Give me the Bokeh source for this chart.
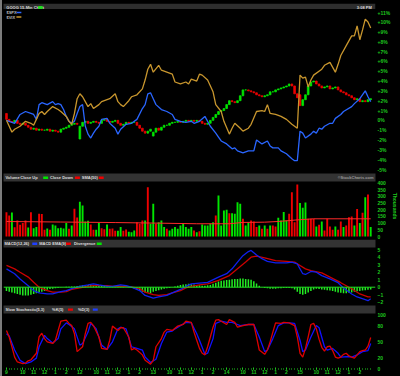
from bokeh.plotting import figure
from bokeh.layouts import column
from bokeh.models import Range1d, LinearAxis, FixedTicker, Span
from bokeh.core.properties import value
from bokeh.embed import file_html
from bokeh.resources import INLINE

# ---------------- data ----------------
goog_open = [0.7, 0.1, -0.1, -0.2, 0.0, -0.3, -0.4, -0.3, -0.5, -0.7,
             -0.9, -0.8, -1.0, -0.9, -1.0, -1.0, -0.9, -1.1, -1.0, -1.1,
             -1.2, -0.9, -0.8, -0.7, -0.5, -0.4, -0.3, -1.9, -0.6, -0.2,
             -0.1, -0.3, -0.2, -0.1, -0.2, -0.3, 0.0, 0.1, -0.1, -0.2,
             -0.1, 0.0, -0.3, -0.5, -0.4, -0.2, -0.3, -0.2, -0.2, -0.5,
             -0.8, -1.1, -1.3, -1.1, -1.6, -1.2, -0.8, -1.0, -0.7, -0.5,
             -0.5, -0.3, -0.2, -0.2, -0.1, -0.2, -0.1, 0.0, -0.1, 0.0,
             -0.1, 0.0, -0.1, -0.3, -0.4, -0.3, 0.0, 0.3, 0.6, 0.9,
             1.0, 1.2, 1.6, 2.0, 1.9, 1.8, 2.0, 2.5, 3.1, 3.1,
             3.0, 2.9, 2.8, 2.6, 2.5, 2.4, 2.5, 2.6, 2.9, 2.9,
             3.1, 3.2, 3.3, 3.4, 3.5, 3.7, 3.5, 2.7, 2.6, 1.5,
             2.1, 2.6, 3.5, 3.9, 4.0, 3.7, 3.5, 3.3, 3.4, 3.5,
             3.2, 3.3, 3.4, 3.1, 2.9, 2.8, 2.6, 2.5, 2.3, 2.1,
             2.2, 1.9, 2.0, 1.9, 2.1]
goog_close = [0.1, -0.1, -0.2, 0.0, -0.3, -0.4, -0.3, -0.5, -0.7, -0.9,
              -0.8, -1.0, -0.9, -1.0, -1.0, -0.9, -1.1, -1.0, -1.1, -1.2,
              -0.9, -0.8, -0.7, -0.5, -0.4, -0.3, -0.4, -0.6, -0.2, -0.1,
              -0.3, -0.2, -0.1, -0.2, -0.3, 0.0, 0.1, -0.1, -0.2, -0.1,
              0.0, -0.3, -0.5, -0.4, -0.2, -0.3, -0.2, -0.2, -0.5, -0.8,
              -1.1, -1.3, -1.1, -0.9, -1.2, -0.8, -1.0, -0.7, -0.5, -0.5,
              -0.3, -0.2, -0.2, -0.1, -0.2, -0.1, 0.0, -0.1, 0.0, -0.1,
              0.0, -0.1, -0.3, -0.4, -0.3, 0.0, 0.3, 0.6, 0.9, 1.0,
              1.2, 1.6, 2.0, 1.9, 1.8, 2.0, 2.5, 3.1, 3.1, 3.0,
              2.9, 2.8, 2.6, 2.5, 2.4, 2.5, 2.6, 2.9, 2.9, 3.1,
              3.2, 3.3, 3.4, 3.5, 3.7, 3.5, 2.7, 2.3, 1.5, 2.1,
              2.6, 3.5, 3.9, 4.0, 3.7, 3.5, 3.3, 3.4, 3.5, 3.2,
              3.3, 3.4, 3.1, 2.9, 2.8, 2.6, 2.5, 2.3, 2.1, 2.2,
              1.9, 2.0, 1.9, 2.1, 2.2]

spx_bar = [0, 1, 3, 5, 7, 9, 10, 11, 12, 13, 15, 17, 18, 19, 20, 21, 22, 23, 24, 25,
           26, 27, 28, 29, 30, 31, 32, 33, 34, 35, 37, 38, 40, 41, 42, 44, 46, 48, 50, 51,
           52, 53, 54, 55, 57, 59, 61, 62, 64, 66, 68, 69, 71, 73, 75, 77, 78, 79, 81, 83,
           84, 85, 87, 89, 91, 92, 93, 94, 96, 97, 98, 100, 101, 103, 105, 106, 107, 108, 109, 110,
           112, 113, 114, 115, 116, 117, 119, 120, 121, 123, 124, 127, 128, 130, 132, 133, 134]
spx_pct = [0.0, -0.1, -0.3, 0.6, 0.9, 0.7, 0.6, 0.1, 1.6, 1.8, 1.6, 1.9, 1.6, 1.7, 1.6, 1.1, 0.4, -0.1, -0.3, -0.1,
           0.7, 1.4, 1.6, -0.6, -1.4, -1.8, -1.3, -0.9, -0.6, 0.1, 0.2, -0.3, -0.8, -1.4, -0.9, -0.4, -0.3, 0.1, 1.2, 1.6,
           2.7, 2.8, 2.2, 1.6, 1.1, 0.9, 0.6, 0.1, -0.1, -0.2, -0.1, -0.3, -0.1, 0.4, -0.6, -1.3, -1.7, -2.1, -2.4, -2.9,
           -2.8, -3.1, -3.3, -3.1, -3.1, -2.0, -2.2, -2.4, -2.1, -2.6, -2.8, -2.8, -3.1, -3.4, -3.9, -4.1, -4.1, -1.1, -1.3, -1.8,
           -1.4, -1.1, -1.3, -0.8, -0.9, -0.6, -0.3, -0.3, 0.2, 0.6, 0.9, 1.4, 1.7, 2.2, 3.0, 2.4, 1.9]

vix_bar = [0, 1, 2, 3, 5, 7, 9, 10, 11, 12, 13, 14, 15, 17, 19, 20, 22, 23, 24, 25,
           26, 27, 28, 29, 30, 31, 32, 34, 35, 37, 38, 40, 41, 42, 43, 45, 46, 48, 50, 51,
           52, 53, 54, 56, 57, 59, 61, 62, 64, 66, 67, 68, 70, 71, 72, 74, 76, 77, 79, 80,
           82, 83, 84, 86, 87, 89, 90, 92, 94, 95, 96, 97, 99, 101, 103, 105, 107, 108, 109, 110,
           111, 112, 113, 116, 117, 119, 121, 122, 123, 125, 127, 128, 129, 130, 131, 132, 133, 134]
vix_pct = [0.0, -0.6, -1.2, -0.9, -0.6, -0.1, -0.3, -0.5, 0.1, 0.7, 0.9, 0.6, 0.9, 1.4, 1.1, 0.9, 0.4, -0.1, -0.4, 0.7,
           2.2, 2.7, 2.4, 1.9, 1.4, 1.7, 1.2, 1.6, 1.9, 2.1, 2.2, 2.7, 1.9, 1.6, 1.4, 2.0, 2.4, 2.6, 3.2, 4.1,
           5.2, 5.7, 4.9, 5.6, 5.1, 4.9, 4.7, 3.9, 3.7, 3.9, 3.7, 4.2, 4.0, 4.7, 4.6, 4.1, 2.9, 1.6, 0.9, -0.1,
           -1.4, -0.8, -0.3, -0.8, -1.1, -0.8, -0.4, 0.9, 1.0, 0.9, 1.6, 0.7, 0.6, 0.4, 0.1, -0.4, -0.8, 4.6, 4.3, 4.4,
           3.4, 4.1, 4.6, 5.2, 5.6, 5.9, 4.9, 5.7, 6.6, 7.6, 8.6, 8.6, 9.6, 8.2, 9.2, 10.3, 10.0, 9.4]

volume_k = [181, 157, 179, 69, 119, 87, 100, 119, 67, 181,
            62, 70, 169, 167, 50, 60, 50, 90, 82, 62,
            65, 60, 100, 57, 82, 207, 142, 259, 231, 112,
            117, 90, 50, 50, 100, 62, 55, 90, 57, 60,
            42, 42, 70, 42, 52, 35, 32, 45, 107, 95,
            119, 119, 368, 95, 244, 95, 107, 119, 70, 57,
            45, 57, 70, 57, 82, 95, 70, 57, 70, 45,
            32, 40, 90, 82, 82, 95, 107, 157, 306, 82,
            194, 199, 174, 174, 169, 256, 244, 132, 82, 107,
            119, 112, 70, 82, 57, 82, 57, 82, 82, 75,
            139, 119, 182, 119, 169, 331, 107, 388, 249, 214,
            254, 132, 132, 132, 75, 87, 112, 45, 132, 75,
            50, 75, 50, 112, 70, 82, 144, 149, 82, 206,
            100, 177, 293, 313, 70]
volume_dir = list("DDUDDDDDUD" "UUDDDUDUUU" "UUUDUDDUUU" "UDDUUDDUDD"
                  "DUUDDUUUDD" "DUDUUDUUUD" "UUUUUUUUUD" "UDUUUUUDUU"
                  "UUDUUUUDUU" "DDDUDUDUDD" "UUUUDDDDUU" "UDDDUDUDDD"
                  "DUDDUDDDUD" "UDUDU")
vol_sma_bar = [0, 20, 40, 55, 70, 82, 87, 95, 100, 107, 113, 134]
vol_sma_k = [112, 108, 104, 100, 95, 95, 105, 107, 112, 124, 132, 132]

macd_bar = [0, 3, 5, 8, 10, 12, 15, 17, 20, 22, 24, 27, 30, 32, 34, 37, 39, 42, 44, 46,
            49, 51, 54, 56, 59, 61, 64, 66, 68, 71, 74, 78, 81, 83, 85, 87, 89, 90, 92, 94,
            96, 99, 103, 105, 107, 108, 109, 110, 112, 114, 116, 119, 122, 124, 127, 129, 132, 133, 134]
macd_val = [2.45, 1.8, 1.1, 0.2, -0.45, -0.75, -0.9, -0.9, -0.6, -0.45, -0.2, 0.1, 0.3, 0.45, 0.3, 0.1, 0.1, 0.3, 0.2, 0.0,
            -0.45, -1.1, -1.45, -1.3, -1.1, -0.75, -0.3, 0.1, 0.45, 0.55, 0.65, 1.35, 1.8, 2.45, 3.35, 4.2, 4.75, 4.9, 4.3, 3.8,
            3.45, 3.25, 3.25, 3.35, 3.1, 2.45, 1.8, 1.7, 2.1, 2.0, 1.55, 1.1, 0.6, -0.1, -0.9, -1.3, -1.65, -1.8, -1.55]
signal_bar = [0, 3, 5, 8, 10, 12, 15, 17, 20, 22, 24, 27, 30, 32, 34, 37, 39, 42, 44, 46,
              49, 51, 54, 56, 59, 61, 64, 66, 68, 71, 74, 78, 82, 85, 88, 90, 92, 95, 99, 103,
              106, 108, 110, 112, 116, 119, 123, 127, 130, 133, 134]
signal_val = [2.9, 2.45, 2.0, 1.35, 0.65, 0.0, -0.45, -0.65, -0.65, -0.6, -0.3, -0.1, 0.1, 0.2, 0.2, 0.2, 0.1, 0.1, 0.1, 0.05,
              -0.2, -0.65, -1.0, -1.1, -1.0, -0.75, -0.45, -0.1, 0.1, 0.3, 0.45, 0.9, 1.55, 2.45, 3.35, 4.0, 4.15, 3.9, 3.55, 3.45,
              3.35, 2.9, 2.45, 2.2, 1.9, 1.35, 0.6, -0.2, -0.9, -1.3, -1.3]
divergence = [-0.5, -0.6, -0.7, -0.8, -0.9, -1.0, -1.1, -1.1, -1.1, -1.0,
              -0.9, -0.8, -0.7, -0.6, -0.5, -0.35, -0.25, -0.2, -0.15, -0.1,
              -0.05, 0.0, 0.05, 0.05, 0.1, 0.1, 0.15, 0.2, 0.25, 0.3,
              0.3, 0.35, 0.3, 0.3, 0.25, 0.2, 0.15, 0.1, 0.1, 0.1,
              0.15, 0.1, 0.1, 0.05, 0.0, -0.05, -0.1, -0.2, -0.35, -0.5,
              -0.6, -0.7, -0.75, -0.8, -0.6, -0.5, -0.4, -0.3, -0.2, -0.15,
              -0.1, 0.0, 0.1, 0.2, 0.3, 0.35, 0.4, 0.45, 0.4, 0.35,
              0.3, 0.25, 0.2, 0.2, 0.25, 0.3, 0.45, 0.6, 0.75, 0.85,
              0.9, 0.95, 1.0, 1.05, 1.1, 1.1, 1.15, 1.15, 1.1, 1.05,
              1.0, 0.8, 0.5, 0.2, 0.0, -0.1, -0.15, -0.2, -0.2, -0.2,
              -0.15, -0.15, -0.1, -0.1, -0.1, -0.15, -0.3, -0.6, -0.9, -1.0,
              -0.9, -0.7, -0.5, -0.3, -0.2, -0.25, -0.3, -0.35, -0.4, -0.45,
              -0.5, -0.6, -0.7, -0.75, -0.8, -0.8, -0.75, -0.7, -0.6, -0.55,
              -0.5, -0.45, -0.4, -0.35, -0.3]

stoch_k_bar = [0, 1, 2, 3, 4, 6, 7, 8, 9, 11, 12, 13, 14, 15, 17, 18, 19, 20, 22, 23,
               24, 25, 26, 28, 29, 30, 31, 32, 34, 35, 37, 38, 39, 41, 42, 43, 45, 46, 47, 48,
               50, 51, 53, 54, 55, 57, 58, 59, 61, 63, 65, 66, 68, 69, 70, 71, 72, 73, 74, 76,
               77, 78, 79, 81, 82, 84, 85, 87, 89, 91, 92, 93, 95, 96, 97, 98, 99, 101, 102, 104,
               106, 107, 108, 109, 110, 111, 112, 113, 114, 115, 116, 117, 118, 119, 120, 121, 122, 123, 124, 125,
               126, 127, 128, 129, 130, 131, 132, 133, 134]
stoch_k = [71, 59, 41, 22, 13, 10, 11, 15, 17, 29, 59, 66, 56, 50, 47, 53, 71, 88, 90, 84,
           80, 65, 32, 41, 65, 84, 86, 80, 59, 38, 36, 53, 79, 71, 76, 76, 59, 35, 38, 35,
           26, 16, 9, 16, 41, 56, 68, 73, 71, 79, 82, 88, 86, 68, 53, 38, 29, 26, 41, 77,
           90, 91, 88, 82, 91, 86, 77, 80, 82, 82, 59, 35, 27, 35, 50, 68, 85, 84, 86, 85,
           80, 59, 29, 22, 38, 59, 82, 84, 74, 55, 40, 33, 41, 42, 34, 22, 20, 22, 27, 29,
           24, 22, 20, 26, 32, 34, 35, 42, 58]
stoch_d_bar = [0, 1, 3, 5, 7, 9, 11, 12, 14, 15, 17, 19, 20, 22, 23, 25, 27, 28, 30, 31,
               33, 35, 37, 39, 41, 42, 44, 46, 48, 50, 51, 53, 55, 57, 59, 61, 62, 64, 66, 68,
               70, 71, 73, 74, 76, 77, 79, 81, 83, 85, 86, 89, 91, 93, 95, 96, 98, 100, 102, 104,
               106, 108, 109, 110, 112, 114, 115, 117, 118, 120, 122, 123, 126, 127, 129, 131, 133, 134]
stoch_d = [65, 61, 35, 16, 10, 13, 20, 41, 62, 56, 48, 56, 74, 85, 82, 74, 44, 47, 68, 84,
           74, 44, 36, 50, 74, 77, 74, 41, 38, 35, 22, 12, 18, 47, 68, 70, 74, 80, 86, 85,
           65, 53, 27, 29, 56, 84, 88, 86, 86, 82, 80, 82, 82, 59, 32, 35, 56, 80, 85, 85,
           84, 53, 32, 35, 59, 80, 76, 41, 35, 38, 29, 22, 23, 22, 26, 32, 34, 47]

price_ticks = [11, 10, 9, 8, 7, 6, 5, 4, 3, 2, 1, 0, -1, -2, -3, -4, -5]
price_tick_labels = ["+11%", "+10%", "+9%", "+8%", "+7%", "+6%", "+5%", "+4%", "+3%", "+2%",
                     "+1%", "0%", "-1%", "-2%", "-3%", "-4%", "-5%"]
volume_ticks = [400, 350, 300, 250, 200, 150, 100, 50, 0]
macd_ticks = [5, 4, 3, 2, 1, 0, -1, -2]
stoch_ticks = [100, 80, 50, 20, 0]
day_start_bar = [0, 27, 54, 81, 108]
day_labels = ["9", "12", "13", "14", "15"]
hour_offset = [6, 10, 14, 18, 22]
hour_labels = ["10", "11", "12", "1", "2"]

# ---------------- styling / layout helpers ----------------
FONT = "Liberation Sans"
AX_GREEN = "#1ec81e"
UP = "#00e600"
DOWN = "#ee0000"
HDR_FILL = "#333333"
HDR_TXT = "#dcdcdc"
HDR_SIZE = "4px"
BAR_PX = 2.74          # pixels per bar
X0_PX = 6.0            # page pixel of first bar
EDGE = 2               # grey left edge of the chart (css border)
FIG_W = 400 - EDGE


def bx(px):
    """page x pixel -> bar units"""
    return (px - X0_PX) / BAR_PX


xr = Range1d(bx(3), bx(378))


class Panel:
    def __init__(self, top_px, bot_px, fy, height, bottom_border=0):
        self.fy = fy
        self.p = figure(width=FIG_W, height=height, x_range=xr, title=None,
                        y_range=Range1d(fy(bot_px), fy(top_px)),
                        output_backend="svg", toolbar_location=None,
                        x_axis_location=None, y_axis_location=None,
                        min_border_left=3 - EDGE, min_border_right=22, min_border_top=0,
                        min_border_bottom=bottom_border,
                        background_fill_color="black", border_fill_color="black",
                        outline_line_color=None)
        self.p.grid.visible = False

    def band(self, y0, y1):
        self.p.quad(left=[bx(2)], right=[bx(381)], bottom=[self.fy(y1)], top=[self.fy(y0)],
                    fill_color=HDR_FILL, line_color=None)

    def label(self, xs_px, texts, ys_px, color=HDR_TXT, align="left"):
        if not isinstance(ys_px, list):
            ys_px = [ys_px] * len(xs_px)
        self.p.text(x=[bx(v) for v in xs_px], y=[self.fy(v) for v in ys_px], text=texts,
                    text_font=value(FONT), text_font_size=HDR_SIZE, text_font_style="bold",
                    text_color=color, text_baseline="middle", text_align=align)

    def swatch(self, x_px, y_px, color, w=5, hh=1.2):
        self.p.quad(left=[bx(x_px)], right=[bx(x_px + w)], bottom=[self.fy(y_px + hh)],
                    top=[self.fy(y_px - hh)], fill_color=color, line_color=None)

    def right_axis(self, ticks, labels=None, axis_label=None):
        ax = LinearAxis(ticker=FixedTicker(ticks=ticks))
        if labels is not None:
            ax.major_label_overrides = {t: l for t, l in zip(ticks, labels)}
        ax.axis_line_color = None
        ax.major_tick_line_color = None
        ax.minor_tick_line_color = None
        ax.major_tick_out = 0
        ax.major_tick_in = 0
        ax.major_label_standoff = 2
        ax.major_label_text_color = AX_GREEN
        ax.major_label_text_font_size = "5px"
        ax.major_label_text_font = FONT
        ax.major_label_text_font_style = "bold"
        if axis_label:
            ax.axis_label = axis_label
            ax.axis_label_text_color = AX_GREEN
            ax.axis_label_text_font_size = "5px"
            ax.axis_label_text_font = FONT
            ax.axis_label_text_font_style = "bold"
            ax.axis_label_standoff = 3
        self.p.add_layout(ax, "right")
        return ax


idx = list(range(len(goog_close)))

# ---------------- title band (page y 0..9) ----------------
t = figure(width=FIG_W, height=9, x_range=Range1d(EDGE, 400), y_range=Range1d(0, 9), title=None,
           output_backend="svg", toolbar_location=None,
           x_axis_location=None, y_axis_location=None,
           min_border=0, min_border_left=0, min_border_right=0,
           min_border_top=0, min_border_bottom=0,
           background_fill_color="black", border_fill_color="black",
           outline_line_color=None)
t.grid.visible = False
t.quad(left=[0], right=[400], bottom=[1], top=[9], fill_color="#2e2e2e", line_color=None)
t.text(x=[5, 396], y=[5, 5], text=["GOOG 15-Min Chart", "3:08 PM"], text_font=value(FONT),
       text_font_size=HDR_SIZE, text_font_style="bold", text_color=HDR_TXT,
       text_baseline="middle", text_align=["left", "right"])
t.quad(left=[39], right=[44], bottom=[3.4], top=[6.6], fill_color="#22dd22", line_color=None)

# ---------------- main price panel (page y 9..172) ----------------
main = Panel(9, 172, lambda y: -5 + (169 - y) / 9.83, 163)
pm = main.p
candle_color = [UP if c >= o else DOWN for o, c in zip(goog_open, goog_close)]
pm.vbar(x=idx, top=goog_open, bottom=goog_close, width=0.62,
        fill_color=candle_color, line_color=candle_color, line_width=0.8)
pm.line(spx_bar, spx_pct, line_color="#2a66ff", line_width=1.3)
pm.line(vix_bar, vix_pct, line_color="#c8962e", line_width=1.3)
main.right_axis(price_ticks, price_tick_labels)
main.label([6, 6], ["$SPX", "$VIX"], [12, 16.5], color="#bbbbbb")
main.swatch(16, 12, "#2a66ff", w=5, hh=0.8)
main.swatch(16, 16.5, "#c8962e", w=5, hh=0.8)

# ---------------- volume (page y 172..239) ----------------
vol = Panel(172, 239, lambda y: (236 - y) * 7.46, 67)
vol.band(173, 181)
vol.label([5, 20, 50, 82], ["Volume", "Close Up", "Close Down", "SMA(50)"], 177.2)
vol.swatch(43, 177.2, UP)
vol.swatch(75, 177.2, DOWN)
vol.swatch(99, 177.2, DOWN)
vol.label([376], ["\u00a9StockCharts.com"], 177.2, color="#9a9a9a", align="right")
vol_color = [UP if d == "U" else DOWN for d in volume_dir]
vol.p.vbar(x=idx, top=volume_k, bottom=0, width=0.7, fill_color=vol_color, line_color=None)
vol.p.line(vol_sma_bar, vol_sma_k, line_color="#ff2a2a", line_width=1)
vol.right_axis(volume_ticks, axis_label="Thousands")

# ---------------- MACD (page y 239..304) ----------------
mac = Panel(239, 304, lambda y: (286.7 - y) / 7.5, 65)
mac.band(239, 247)
mac.label([4, 39, 74], ["MACD(12,26)", "MACD EMA(9)", "Divergence"], 243.2)
mac.swatch(32, 243.2, "#1f3fff")
mac.swatch(66, 243.2, DOWN)
mac.swatch(97, 243.2, UP)
mac.p.add_layout(Span(location=0, dimension="width", line_color="#22dd22", line_width=1))
mac.p.vbar(x=idx, top=divergence, bottom=0, width=0.55, fill_color="#22ee22", line_color=None)
mac.p.line(signal_bar, signal_val, line_color="#cc0000", line_width=1.3)
mac.p.line(macd_bar, macd_val, line_color="#1020ee", line_width=1.3)
mac.right_axis(macd_ticks)

# ---------------- Slow stochastic (page y 304..376, frame to 369) ----------------
sto = Panel(304, 369.5, lambda y: (369 - y) / 0.547, 72, bottom_border=7)
sto.band(305, 313)
sto.label([5, 52, 78], ["Slow Stochastic(5,3)", "%K(5)", "%D(3)"], 309.2)
sto.swatch(68, 309.2, DOWN)
sto.swatch(93, 309.2, "#1f3fff")
sto.p.line(stoch_d_bar, stoch_d, line_color="#1010ff", line_width=1.3)
sto.p.line(stoch_k_bar, stoch_k, line_color="#dd0000", line_width=1.3)
sto.right_axis(stoch_ticks)

tick_pos = []
tick_lab = {}
for d0, dl in zip(day_start_bar, day_labels):
    tick_pos.append(d0)
    tick_lab[d0] = dl
    for off, hl in zip(hour_offset, hour_labels):
        tick_pos.append(d0 + off)
        tick_lab[d0 + off] = hl
xax = LinearAxis(ticker=FixedTicker(ticks=tick_pos, minor_ticks=idx))
xax.major_label_overrides = tick_lab
xax.axis_line_color = None
xax.major_tick_line_color = AX_GREEN
xax.major_tick_in = 2
xax.major_tick_out = 0
xax.minor_tick_line_color = AX_GREEN
xax.minor_tick_in = 1
xax.minor_tick_out = 0
xax.major_label_standoff = 0
xax.major_label_text_color = AX_GREEN
xax.major_label_text_font_size = "5px"
xax.major_label_text_font = FONT
xax.major_label_text_font_style = "bold"
sto.p.add_layout(xax, "below")

layout = column(t, pm, vol.p, mac.p, sto.p, spacing=0)
layout.styles = {"background-color": "black", "border-left": f"{EDGE}px solid #7c7c7c"}

with open("out.html", "w") as f:
    f.write(file_html(layout, INLINE))
